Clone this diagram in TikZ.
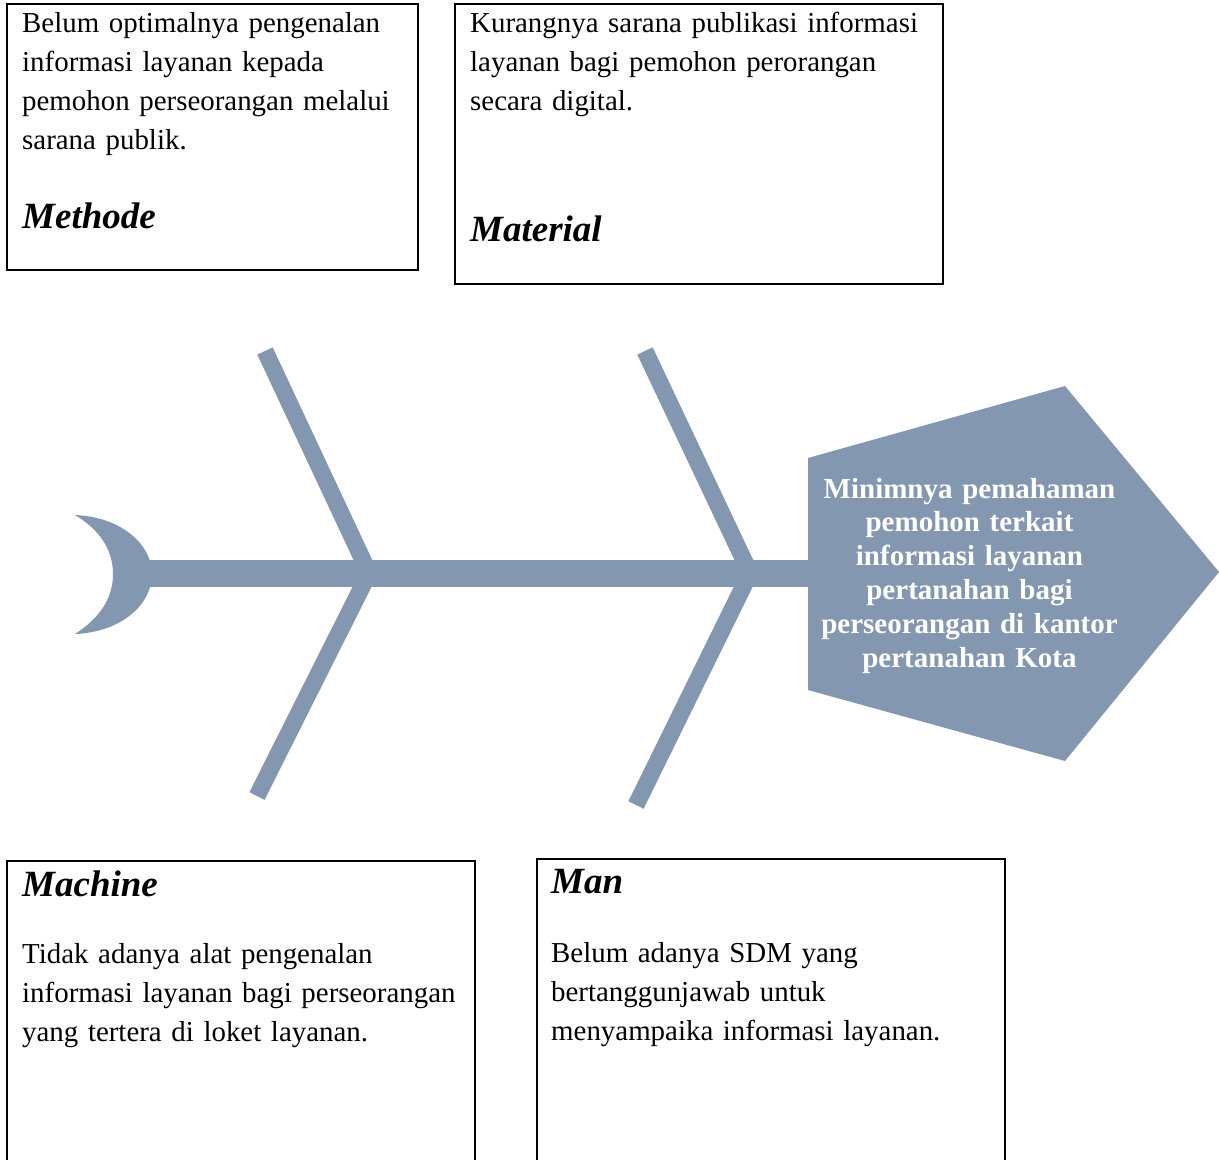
\documentclass[tikz,border=0pt]{standalone}
\usepackage{fontspec}
\setmainfont{Liberation Serif}
\definecolor{bonegray}{HTML}{8497B0}
\tikzset{
  bone/.style={draw=bonegray, line width=17pt},
  spine/.style={draw=bonegray, line width=27pt},
  causebox/.style={draw=black, line width=1.8pt},
  causetext/.style={anchor=base west, inner sep=0pt, text width=560pt, align=left,
    font=\fontsize{28.9}{39}\selectfont},
  causehead/.style={anchor=base west, inner sep=0pt,
    font=\fontsize{37}{40}\selectfont\bfseries\itshape},
}

\begin{document}
\begin{tikzpicture}[x=1pt,y=-1pt]
  \clip (0,0) rectangle (1219,1160);

  \coordinate (tail) at (140,573);
  \coordinate (neck) at (820,573);
  \coordinate (J1) at (369,573);
  \coordinate (J2) at (750,573);
  \coordinate (MethodeEnd) at (265,351);
  \coordinate (MachineEnd) at (257,796);
  \coordinate (MaterialEnd) at (645,351);
  \coordinate (ManEnd) at (636,805);

  % tail
  \fill[bonegray] (75,515) .. controls (122,517) and (152,545) .. (152,574)
    .. controls (152,604) and (122,632) .. (75,634)
    .. controls (100,618) and (113,598) .. (113,574)
    .. controls (113,550) and (100,530) .. (75,515) -- cycle;

  % spine and bones
  \draw[spine] (tail) -- (neck);
  \foreach \from/\to in {J1/MethodeEnd, J1/MachineEnd, J2/MaterialEnd, J2/ManEnd}
  {
   \draw[bone] (\from) -- (\to);
  }

  % head
  \fill[bonegray] (808,458) -- (1065,386) -- (1219,572) -- (1065,761) -- (808,690) -- cycle;
  \node[anchor=base, inner sep=0pt, text width=330pt, align=center, text=white,
    font=\fontsize{29}{33.8}\selectfont\bfseries] (effect) at (969.5,498)
    {Minimnya pemahaman\\ pemohon terkait\\ informasi layanan\\ pertanahan bagi\\ perseorangan di kantor\\ pertanahan Kota};

  % cause boxes
  \draw[causebox] (7,4) rectangle (418,270);
  \node[causetext] (methodetxt) at (22,32)
    {Belum optimalnya pengenalan\\ informasi layanan kepada\\ pemohon perseorangan melalui\\ sarana publik.};
  \node[causehead] (methode) at (22,228) {Methode};

  \draw[causebox] (455,4) rectangle (943,284);
  \node[causetext] (materialtxt) at (470,32)
    {Kurangnya sarana publikasi informasi\\ layanan bagi pemohon perorangan\\ secara digital.};
  \node[causehead] (material) at (470,241) {Material};

  \draw[causebox] (7,861) rectangle (475,1175);
  \node[causehead] (machine) at (22,896) {Machine};
  \node[causetext] (machinetxt) at (22,963)
    {Tidak adanya alat pengenalan\\ informasi layanan bagi perseorangan\\ yang tertera di loket layanan.};

  \draw[causebox] (537,859) rectangle (1005,1175);
  \node[causehead] (man) at (551,893) {Man};
  \node[causetext] (mantxt) at (551,962)
    {Belum adanya SDM yang\\ bertanggunjawab untuk\\ menyampaika informasi layanan.};

\end{tikzpicture}
\end{document}
